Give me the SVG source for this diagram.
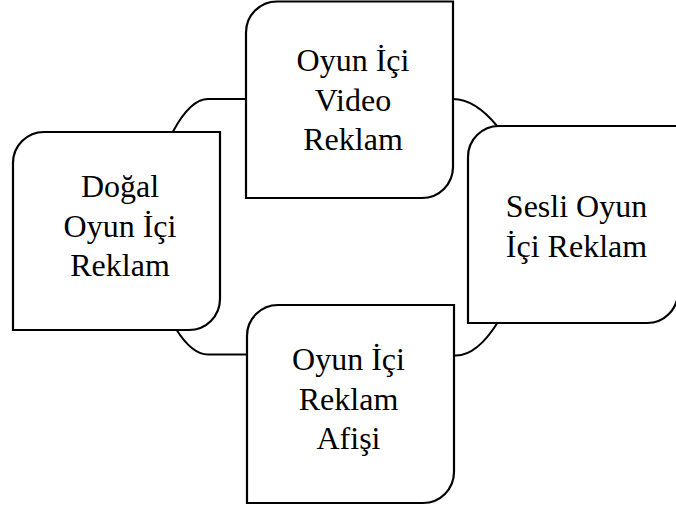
<svg xmlns="http://www.w3.org/2000/svg" width="676" height="508" viewBox="0 0 676 508">
<style>
.conn{fill:none;stroke:#000;stroke-width:2}
.box{fill:#fff;stroke:#000;stroke-width:2.2}
.lbl{font-family:"Liberation Serif","Times New Roman",serif;font-size:32px;fill:#000;text-anchor:middle}
</style>
<rect width="676" height="508" fill="#fff"/>
<g id="connectors">
<path class="conn" d="M 250 99 L 208 99 Q 190.5 99 173 131.5 L 172.5 134"/>
<path class="conn" d="M 450 99 L 453 99 Q 475 99 497.5 126.5"/>
<path class="conn" d="M 176 329 Q 192 354.5 208 354.5 L 250 354.5"/>
<path class="conn" d="M 450 355.5 L 456 355.5 Q 477 355.5 498 322"/>
</g>
<g id="node-top">
<path class="box" d="M 277 1.5 H 453 V 167 A 31 31 0 0 1 422 198 H 246 V 32.5 A 31 31 0 0 1 277 1.5 Z"/>
<text class="lbl" x="353" y="71">Oyun İçi</text>
<text class="lbl" x="353" y="110.5">Video</text>
<text class="lbl" x="353" y="150">Reklam</text>
</g>
<g id="node-left">
<path class="box" d="M 44 132 H 220 V 299 A 31 31 0 0 1 189 330 H 13 V 163 A 31 31 0 0 1 44 132 Z"/>
<text class="lbl" x="120" y="197">Doğal</text>
<text class="lbl" x="120" y="237">Oyun İçi</text>
<text class="lbl" x="120" y="276">Reklam</text>
</g>
<g id="node-right">
<path class="box" d="M 499 126 H 678 V 292 A 31 31 0 0 1 647 323 H 468 V 157 A 31 31 0 0 1 499 126 Z"/>
<text class="lbl" x="576.5" y="217">Sesli Oyun</text>
<text class="lbl" x="576.5" y="257">İçi Reklam</text>
</g>
<g id="node-bottom">
<path class="box" d="M 278 305 H 454 V 472 A 31 31 0 0 1 423 503 H 247 V 336 A 31 31 0 0 1 278 305 Z"/>
<text class="lbl" x="348.5" y="370">Oyun İçi</text>
<text class="lbl" x="348.5" y="410">Reklam</text>
<text class="lbl" x="348.5" y="449">Afişi</text>
</g>
</svg>
